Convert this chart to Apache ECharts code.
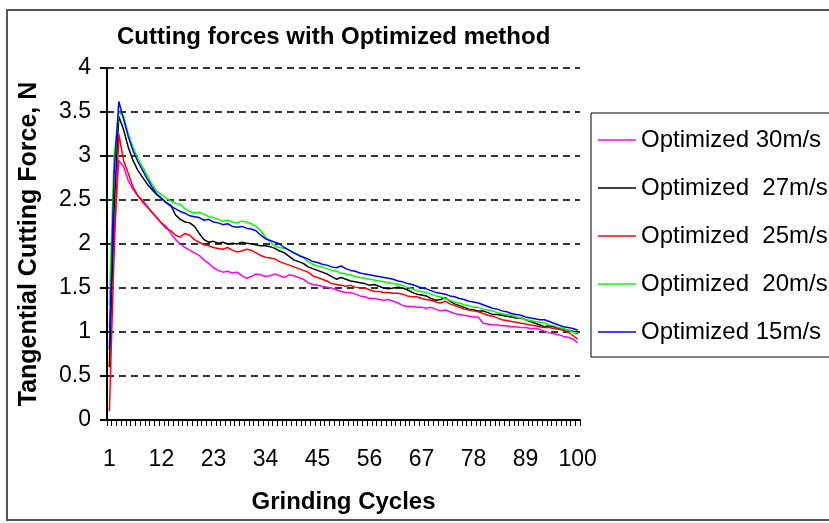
<!DOCTYPE html>
<html>
<head>
<meta charset="utf-8">
<title>Cutting forces with Optimized method</title>
<script src="https://cdn.jsdelivr.net/npm/echarts@6/dist/echarts.min.js"></script>
<style>
  html, body { margin: 0; padding: 0; background: #fff; }
  #chart { width: 829px; height: 523px; }
</style>
</head>
<body>
<div id="chart"></div>
<script>
// grinding cycle numbers (x categories)
var cycles = [1, 2, 3, 4, 5, 6, 7, 8, 9, 10, 11, 12, 13, 14, 15, 16, 17, 18, 19, 20,
  21, 22, 23, 24, 25, 26, 27, 28, 29, 30, 31, 32, 33, 34, 35, 36, 37, 38, 39, 40,
  41, 42, 43, 44, 45, 46, 47, 48, 49, 50, 51, 52, 53, 54, 55, 56, 57, 58, 59, 60,
  61, 62, 63, 64, 65, 66, 67, 68, 69, 70, 71, 72, 73, 74, 75, 76, 77, 78, 79, 80,
  81, 82, 83, 84, 85, 86, 87, 88, 89, 90, 91, 92, 93, 94, 95, 96, 97, 98, 99, 100];

var seriesNames = ["Optimized 30m/s", "Optimized  27m/s", "Optimized  25m/s", "Optimized  20m/s", "Optimized 15m/s"];
var seriesColors = ["#ff00ff", "#000000", "#ff0000", "#00ff00", "#0000ff"];

// tangential cutting force, N
var force30 = [1.05, 2.1, 2.95, 2.88, 2.72, 2.62, 2.55, 2.5, 2.43, 2.36,
  2.3, 2.24, 2.2, 2.12, 2.05, 2.0, 1.96, 1.93, 1.9, 1.87,
  1.82, 1.78, 1.73, 1.7, 1.68, 1.69, 1.67, 1.68, 1.64, 1.61,
  1.63, 1.66, 1.65, 1.63, 1.64, 1.66, 1.64, 1.62, 1.65, 1.64,
  1.62, 1.6, 1.56, 1.54, 1.53, 1.52, 1.51, 1.5, 1.48, 1.46,
  1.45, 1.45, 1.43, 1.41, 1.4, 1.38, 1.38, 1.37, 1.36, 1.37,
  1.35, 1.33, 1.3, 1.29, 1.29, 1.28, 1.28, 1.27, 1.28, 1.26,
  1.24, 1.25, 1.23, 1.21, 1.2, 1.19, 1.18, 1.17, 1.17, 1.1,
  1.09, 1.08, 1.08, 1.07, 1.07, 1.06, 1.06, 1.05, 1.05, 1.04,
  1.04, 1.03, 1.01, 0.99, 0.98, 0.97, 0.95, 0.94, 0.92, 0.88];

var force27 = [0.6, 2.4, 3.45, 3.3, 3.1, 2.95, 2.84, 2.76, 2.68, 2.62,
  2.56, 2.52, 2.47, 2.44, 2.33, 2.28, 2.25, 2.24, 2.2, 2.12,
  2.05, 2.02, 2.03, 2.01, 2.02, 2.0, 2.01, 2.0, 2.02, 2.01,
  2.0, 1.99, 1.98, 1.98, 1.97, 1.95, 1.92, 1.9, 1.86, 1.82,
  1.8, 1.78, 1.74, 1.72, 1.7, 1.68, 1.66, 1.63, 1.6, 1.62,
  1.6, 1.58, 1.57, 1.56, 1.55, 1.53, 1.54, 1.52, 1.5, 1.49,
  1.5, 1.51, 1.5, 1.48, 1.45, 1.43, 1.42, 1.41, 1.38, 1.36,
  1.37, 1.39, 1.35, 1.32, 1.3, 1.28, 1.26, 1.25, 1.24, 1.24,
  1.22, 1.2, 1.2, 1.19, 1.18, 1.17, 1.16, 1.16, 1.14, 1.12,
  1.1, 1.08, 1.06, 1.07, 1.06, 1.04, 1.03, 1.02, 1.01, 0.98];

var force25 = [0.1, 1.9, 3.25, 2.95, 2.8, 2.65, 2.55, 2.48, 2.42, 2.36,
  2.3, 2.24, 2.18, 2.15, 2.1, 2.08, 2.12, 2.1, 2.05, 2.02,
  1.99, 1.98, 1.96, 1.95, 1.94, 1.96, 1.93, 1.91, 1.92, 1.94,
  1.93, 1.9, 1.87, 1.85, 1.84, 1.83, 1.8, 1.78, 1.76, 1.74,
  1.72, 1.7, 1.68, 1.64, 1.62, 1.6, 1.58, 1.55, 1.54, 1.53,
  1.52, 1.53, 1.51, 1.5, 1.5, 1.48, 1.46, 1.46, 1.45, 1.45,
  1.44, 1.44, 1.43, 1.41, 1.4, 1.4, 1.38, 1.37, 1.36, 1.34,
  1.33, 1.35, 1.32, 1.3, 1.28, 1.26, 1.25, 1.24, 1.23, 1.21,
  1.19, 1.18, 1.16, 1.14, 1.13, 1.12, 1.11, 1.1, 1.09, 1.08,
  1.07, 1.06, 1.05, 1.05, 1.04, 1.03, 1.02, 1.0, 0.96, 0.92];

var force20 = [1.3, 3.0, 3.5, 3.45, 3.25, 3.1, 2.98, 2.88, 2.78, 2.68,
  2.6, 2.56, 2.52, 2.49, 2.46, 2.45, 2.4, 2.37, 2.35, 2.36,
  2.34, 2.31, 2.3, 2.28, 2.26, 2.27, 2.25, 2.24, 2.26, 2.25,
  2.23, 2.2, 2.15, 2.08, 2.02, 1.98, 1.96, 1.95, 1.93, 1.9,
  1.88, 1.85, 1.8, 1.77, 1.75, 1.74, 1.72, 1.7, 1.69, 1.67,
  1.66, 1.65, 1.63, 1.62, 1.61, 1.6, 1.59, 1.58, 1.57, 1.56,
  1.55, 1.54, 1.53, 1.51, 1.49, 1.47, 1.46, 1.45, 1.43, 1.41,
  1.4, 1.38, 1.36, 1.34, 1.33, 1.31, 1.3, 1.28, 1.28, 1.26,
  1.25, 1.24, 1.22, 1.21, 1.2, 1.19, 1.17, 1.16, 1.14, 1.13,
  1.12, 1.11, 1.1, 1.08, 1.07, 1.05, 1.04, 1.02, 1.0, 0.99];

var force15 = [0.8, 2.8, 3.62, 3.42, 3.22, 3.06, 2.94, 2.84, 2.74, 2.65,
  2.57, 2.52, 2.47, 2.43, 2.4, 2.37, 2.35, 2.32, 2.31, 2.3,
  2.27, 2.28, 2.25, 2.24, 2.22, 2.23, 2.2, 2.19, 2.2, 2.18,
  2.17, 2.15, 2.1, 2.06, 2.04, 2.02, 2.0, 1.96, 1.93, 1.9,
  1.87, 1.85, 1.83, 1.8, 1.79, 1.77, 1.76, 1.74, 1.73, 1.75,
  1.72, 1.7, 1.69, 1.67, 1.66, 1.65, 1.64, 1.63, 1.62, 1.61,
  1.6, 1.58, 1.57, 1.55, 1.54, 1.52, 1.5, 1.49, 1.47, 1.45,
  1.44, 1.43, 1.41, 1.4, 1.38, 1.37, 1.35, 1.34, 1.33, 1.31,
  1.29, 1.27, 1.26, 1.24, 1.23, 1.21, 1.2, 1.19, 1.17, 1.16,
  1.15, 1.14, 1.14, 1.12, 1.1, 1.08, 1.06, 1.05, 1.04, 1.02];

var forceData = [force30, force27, force25, force20, force15];

var fontName = "'Liberation Sans', Arial, sans-serif";

var chart = echarts.init(document.getElementById("chart"));

var series = [];
for (var i = 0; i < seriesNames.length; i++) {
  series.push({
    name: seriesNames[i],
    type: "line",
    data: forceData[i],
    symbol: "none",
    lineStyle: { color: seriesColors[i], width: 1.5 },
    itemStyle: { color: seriesColors[i] },
    animation: false,
  });
}

var option = {
  backgroundColor: "#fff",
  animation: false,
  textStyle: { fontFamily: fontName },
  title: {
    text: "Cutting forces with Optimized method",
    left: 112,
    top: 20,
    textStyle: {
      fontFamily: fontName,
      fontSize: 24,
      fontWeight: "bold",
      color: "#000",
    },
  },
  legend: {
    orient: "vertical",
    left: 591,
    top: 113,
    padding: [15, 40, 13, 7],
    itemGap: 24,
    itemWidth: 38,
    itemHeight: 1.5,
    icon: "rect",
    borderColor: "#000",
    borderWidth: 1,
    data: seriesNames,
    textStyle: {
      fontFamily: fontName,
      fontSize: 24,
      lineHeight: 24,
      color: "#000",
    },
  },
  grid: {
    left: 107,
    right: 249,
    top: 68,
    bottom: 103,
  },
  xAxis: {
    type: "category",
    data: cycles,
    boundaryGap: true,
    name: "Grinding Cycles",
    nameLocation: "middle",
    nameGap: 70,
    nameTextStyle: {
      fontFamily: fontName,
      fontSize: 24,
      fontWeight: "bold",
      color: "#000",
    },
    axisLine: { lineStyle: { color: "#000", width: 2 } },
    axisTick: {
      show: true,
      interval: 0,
      length: 6,
      lineStyle: { color: "#000", width: 1 },
    },
    axisLabel: {
      interval: 10,
      margin: 28,
      fontFamily: fontName,
      fontSize: 23,
      color: "#000",
    },
    splitLine: { show: false },
  },
  yAxis: {
    type: "value",
    min: 0,
    max: 4,
    interval: 0.5,
    name: "Tangential Cutting Force, N",
    nameLocation: "middle",
    nameGap: 65,
    nameTextStyle: {
      fontFamily: fontName,
      fontSize: 25,
      fontWeight: "bold",
      color: "#000",
    },
    axisLine: { show: true, lineStyle: { color: "#000", width: 2 } },
    axisTick: { show: true, length: 7, lineStyle: { color: "#000", width: 2 } },
    axisLabel: {
      margin: 16,
      fontFamily: fontName,
      fontSize: 23,
      color: "#000",
    },
    splitLine: {
      show: true,
      lineStyle: { color: "#333", width: 2, type: [7, 5] },
    },
  },
  graphic: [
    {
      type: "rect",
      shape: { x: 7, y: 10, width: 840, height: 510 },
      style: { fill: "none", stroke: "#555", lineWidth: 2 },
      silent: true,
    },
  ],
  series: series,
};

chart.setOption(option);
</script>
</body>
</html>
